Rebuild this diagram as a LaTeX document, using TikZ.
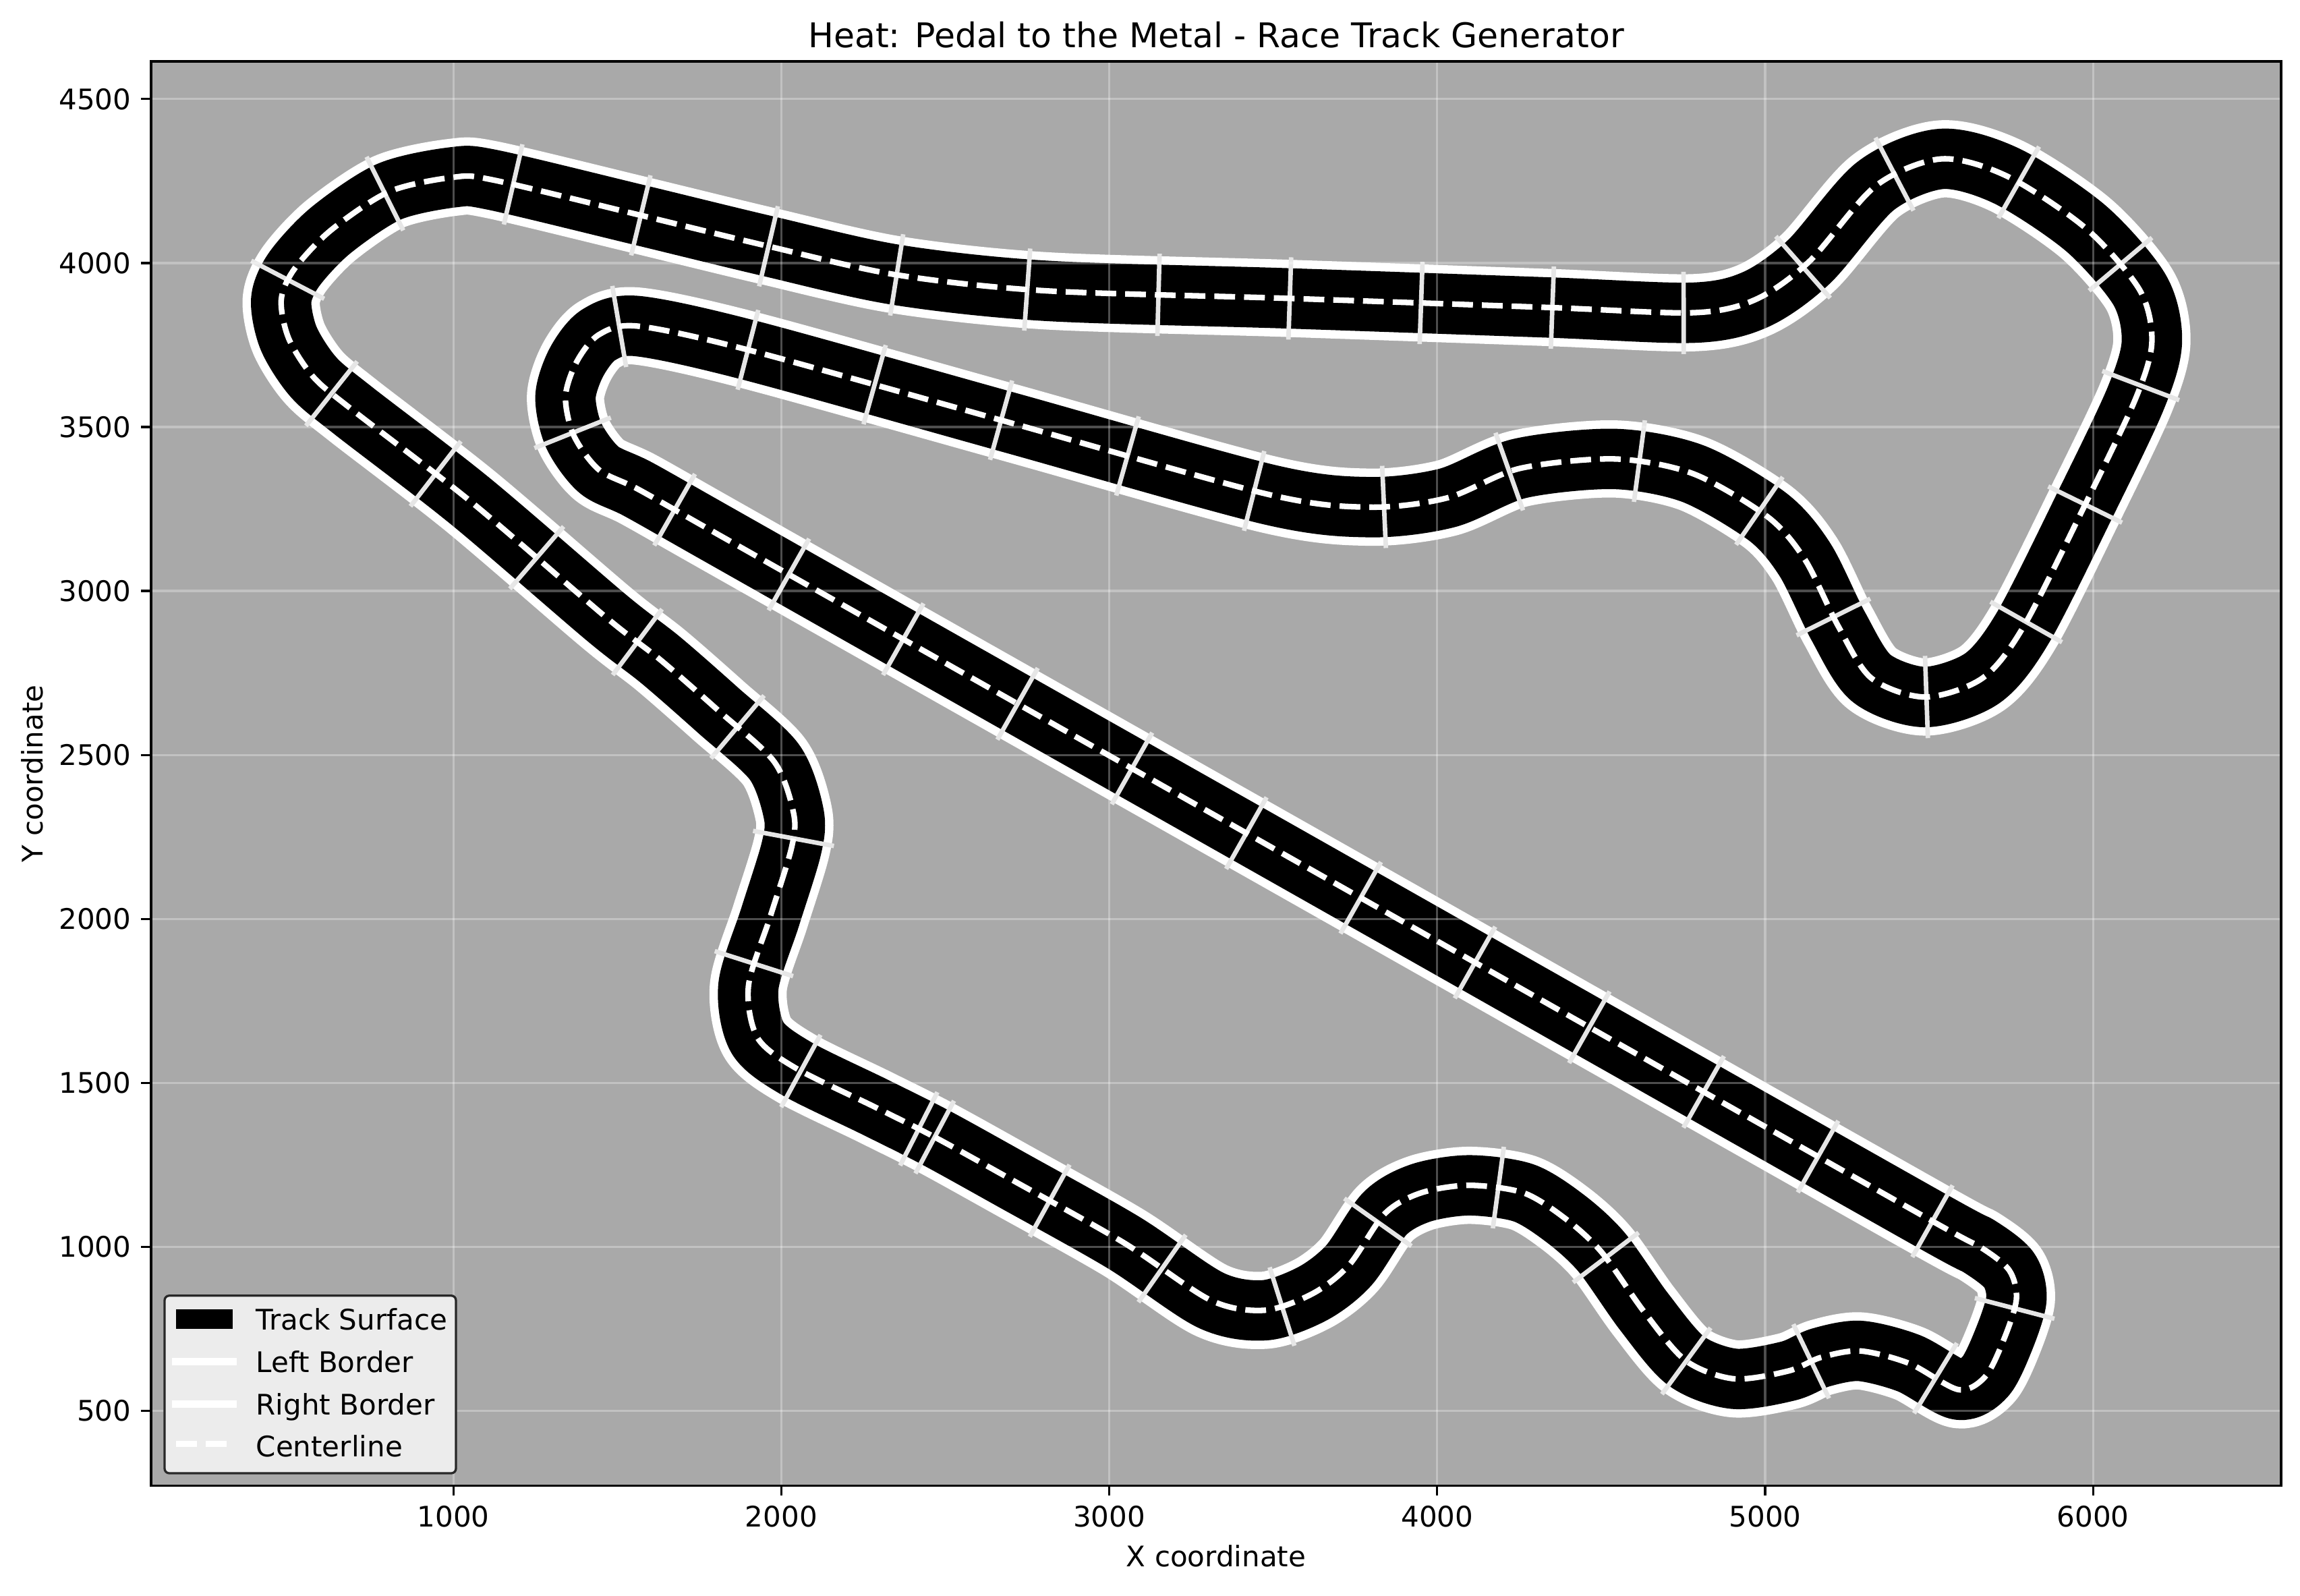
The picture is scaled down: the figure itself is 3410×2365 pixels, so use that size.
\documentclass[tikz,border=0pt]{standalone}
\usepackage{fontspec}
\setmainfont{DejaVu Sans}
\usetikzlibrary{decorations.markings}
\definecolor{axbg}{RGB}{169,169,169}
\definecolor{mk}{RGB}{230,230,230}
\definecolor{legbg}{RGB}{236,236,236}
\definecolor{legedge}{RGB}{40,40,40}
\newcommand\trackpath{plot[smooth cycle, tension=0.5] coordinates {
(2281,1429) (2468,1335) (2703,1205) (3043,1014) (3309,838) (3474,807) (3621,858) (3731,944) (3841,1102)
(3951,1165) (4098,1188) (4264,1165) (4392,1086) (4502,984) (4631,803) (4759,653) (4906,598)
(5072,622) (5170,663) (5290,683) (5440,645) (5590,565) (5673,606) (5731,724) (5767,842)
(5745,929) (5658,999) (5512,1078) (4500,1650) (3500,2216) (2500,2781) (1800,3177) (1563,3311)
(1444,3370) (1367,3475) (1342,3593) (1376,3699) (1444,3782) (1563,3808) (1905,3734) (2700,3513)
(3485,3295) (3792,3256) (4030,3284) (4252,3374) (4542,3403) (4781,3358) (5009,3226) (5122,3096)
(5223,2894) (5324,2735) (5488,2677) (5664,2735) (5790,2894) (5979,3269) (6130,3586) (6180,3759)
(6143,3918) (5979,4106) (5739,4265) (5538,4318) (5337,4235) (5135,4005) (4971,3889) (4782,3849)
(4338,3865) (3536,3893) (2803,3916) (2348,3965) (1955,4053) (1563,4148) (1120,4254) (1000,4262)
(804,4218) (626,4100) (515,3982) (475,3888) (498,3770) (574,3652) (694,3551) (1052,3274)
(1467,2919) (1632,2790) (1808,2636) (1979,2479) (2038,2321) (2031,2216) (1966,2006) (1900,1796)
(1927,1639) (2045,1545)}}
\tikzset{
  ticklab/.style={font=\fontsize{11.95pt}{14pt}\selectfont, inner sep=0pt},
  axline/.style={line width=0.33mm, black},
  gridline/.style={white, opacity=0.3, line width=0.33mm},
  legtext/.style={font=\fontsize{11.95pt}{14pt}\selectfont, inner sep=0pt, anchor=base west}
}
\begin{document}
\begin{tikzpicture}[x=0.1mm,y=-0.1mm]
\useasboundingbox[fill=white] (0,0) rectangle (3410,2365);
\fill[axbg] (224,91) rectangle (3382,2202.6);
% track
\begin{scope}[shift={(186,2334.7)}, x=0.04862mm, y=0.04862mm]
  \draw[white, line width=11.45mm, line join=round] \trackpath;
  \draw[black, line width=8.95mm, line join=round] \trackpath;
  \path[decorate, decoration={markings, mark=between positions 0 and 0.999 step 0.015841 with {\draw[mk, line width=0.67mm] (0,-6.1mm) -- (0,6.1mm);}}] \trackpath;
  \draw[white, line width=0.83mm, dash pattern=on 3.08mm off 1.33mm] \trackpath;
\end{scope}
% grid
\foreach \k in {1,...,6} {
  \draw[gridline] ({186+486.2*\k},91) -- ({186+486.2*\k},2202.6);
}
\foreach \v in {500,1000,...,4500} {
  \draw[gridline] (224,{2334.7-0.4862*\v}) -- (3382,{2334.7-0.4862*\v});
}
% ticks and labels
\foreach \k in {1,...,6} {
  \draw[axline] ({186+486.2*\k},2202.6) -- ({186+486.2*\k},2217.2);
  \node[ticklab, anchor=north] (xt\k) at ({186+486.2*\k},2232) {\k000};
}
\foreach \v in {500,1000,...,4500} {
  \draw[axline] (224,{2334.7-0.4862*\v}) -- (209.4,{2334.7-0.4862*\v});
  \node[ticklab, anchor=east] (yt\v) at (195,{2334.7-0.4862*\v}) {\v};
}
\draw[axline] (224,91) rectangle (3382,2202.6);
% titles
\node[font=\fontsize{14.35pt}{17pt}\selectfont, inner sep=0pt] (title) at (1803,52) {Heat: Pedal to the Metal - Race Track Generator};
\node[ticklab] (xlab) at (1803,2307) {X coordinate};
\node[ticklab, rotate=90] (ylab) at (48,1147) {Y coordinate};
% legend
\draw[fill=legbg, draw=legedge, line width=0.33mm, rounded corners=0.7mm] (244,1920.7) rectangle (676,2184);
\fill[black] (261,1941) rectangle (345,1970);
\draw[white, line width=1.15mm, line cap=rect] (261,2018.3) -- (345,2018.3);
\draw[white, line width=1.15mm, line cap=rect] (261,2081.7) -- (345,2081.7);
\draw[white, line width=0.85mm, dash pattern=on 3.1mm off 1.3mm] (261,2140.3) -- (345,2140.3);
\node[legtext] (l1) at (379,1971.5) {Track Surface};
\node[legtext] (l2) at (379,2034) {Left Border};
\node[legtext] (l3) at (379,2097) {Right Border};
\node[legtext] (l4) at (379,2159) {Centerline};
\end{tikzpicture}
\end{document}
